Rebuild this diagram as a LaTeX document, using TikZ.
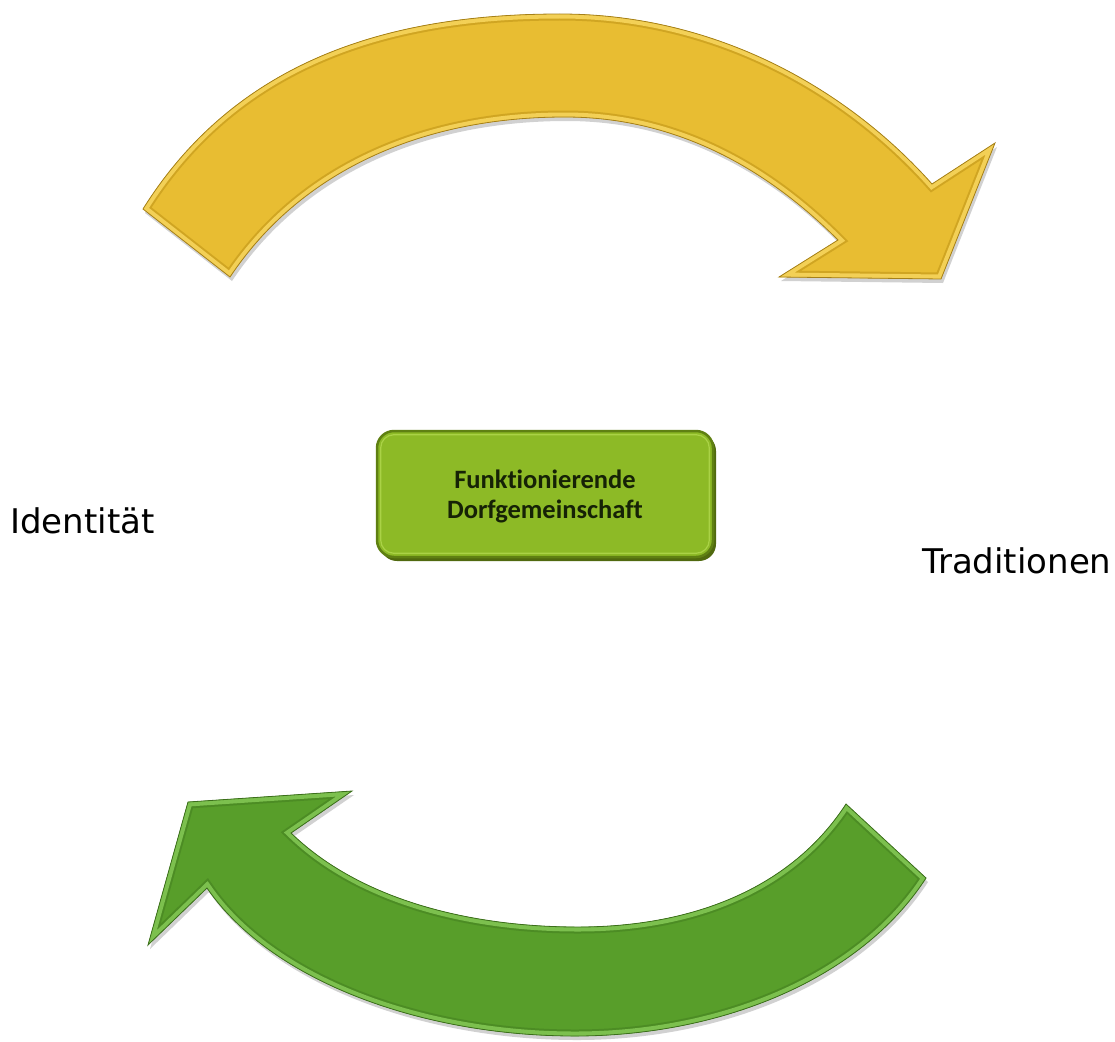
\documentclass[tikz,border=0pt]{standalone}
\usepackage{fontspec}
\setmainfont{DejaVu Sans}
\newfontfamily\boxfont[Ligatures=NoCommon]{Carlito}
\definecolor{ylmain}{RGB}{232,189,50}
\definecolor{yllight}{RGB}{243,208,86}
\definecolor{ylline}{RGB}{208,165,34}
\definecolor{ylout}{RGB}{165,128,25}
\definecolor{grmain}{RGB}{88,158,42}
\definecolor{grlight}{RGB}{124,192,78}
\definecolor{grline}{RGB}{76,140,36}
\definecolor{grout}{RGB}{60,110,28}
\definecolor{bxmain}{RGB}{141,186,38}
\definecolor{bxlight}{RGB}{170,210,70}
\definecolor{bxout}{RGB}{95,128,18}
\definecolor{bxshadow}{RGB}{80,105,15}
\definecolor{bxtext}{RGB}{22,34,6}
\def\YellowArrow{(143,209) .. controls (240,54) and (400,14) .. (560,14) .. controls (720,14) and (850,92) .. (932,184) -- (995,143) -- (941,279) -- (779,277) -- (838,240) .. controls (770,172) and (680,117) .. (565,117) .. controls (420,117) and (300,172) .. (230,277) -- cycle}
\def\GreenArrow{(926,878) .. controls (860,980) and (720,1036) .. (575,1036) .. controls (420,1036) and (270,980) .. (207,888) -- (148,945) -- (188,802) -- (352,791) -- (291,833) .. controls (360,900) and (470,927) .. (578,927) .. controls (690,927) and (790,890) .. (846,804) -- cycle}
\tikzset{
  lbl/.style={font=\fontsize{34}{40}\selectfont, text=black, inner sep=0pt, anchor=base west},
  boxnode/.style={rounded corners=17pt, minimum width=336pt, minimum height=126pt, inner sep=0pt,
     fill=bxmain, draw=bxout, line width=2.5pt},
  boxtextstyle/.style={align=center, inner sep=0pt,
     font=\boxfont\bfseries\fontsize{26.5}{30}\selectfont, text=bxtext}
}
\begin{document}
\begin{tikzpicture}[x=1pt,y=-1pt]
\path[use as bounding box] (0,0) rectangle (1115,1041);
% yellow arrow
\fill[black,opacity=0.18] [shift={(2,4)}] \YellowArrow;
\begin{scope}
  \clip \YellowArrow;
  \fill[ylmain] \YellowArrow;
  \draw[ylline, line width=13pt, line join=miter] \YellowArrow;
  \draw[yllight, line width=9pt, line join=miter] \YellowArrow;
\end{scope}
\draw[ylout, line width=0.8pt, line join=miter] \YellowArrow;
% green arrow
\fill[black,opacity=0.18] [shift={(2,4)}] \GreenArrow;
\begin{scope}
  \clip \GreenArrow;
  \fill[grmain] \GreenArrow;
  \draw[grline, line width=13pt, line join=miter] \GreenArrow;
  \draw[grlight, line width=9pt, line join=miter] \GreenArrow;
\end{scope}
\draw[grout, line width=0.8pt, line join=miter] \GreenArrow;
% central box
\fill[bxshadow, rounded corners=17pt] (380,434) rectangle (716,561);
\node[boxnode] (box) at (545,494) {};
\draw[bxlight, line width=1.2pt, rounded corners=13pt] ([shift={(5,5)}]box.north west) rectangle ([shift={(-5,-5)}]box.south east);
\node[boxtextstyle] (boxtext) at (545,496) {Funktionierende\\Dorfgemeinschaft};
% labels
\node[lbl] (ident) at (10,533) {Identität};
\node[lbl] (trad) at (922,573) {Traditionen};
\end{tikzpicture}
\end{document}
